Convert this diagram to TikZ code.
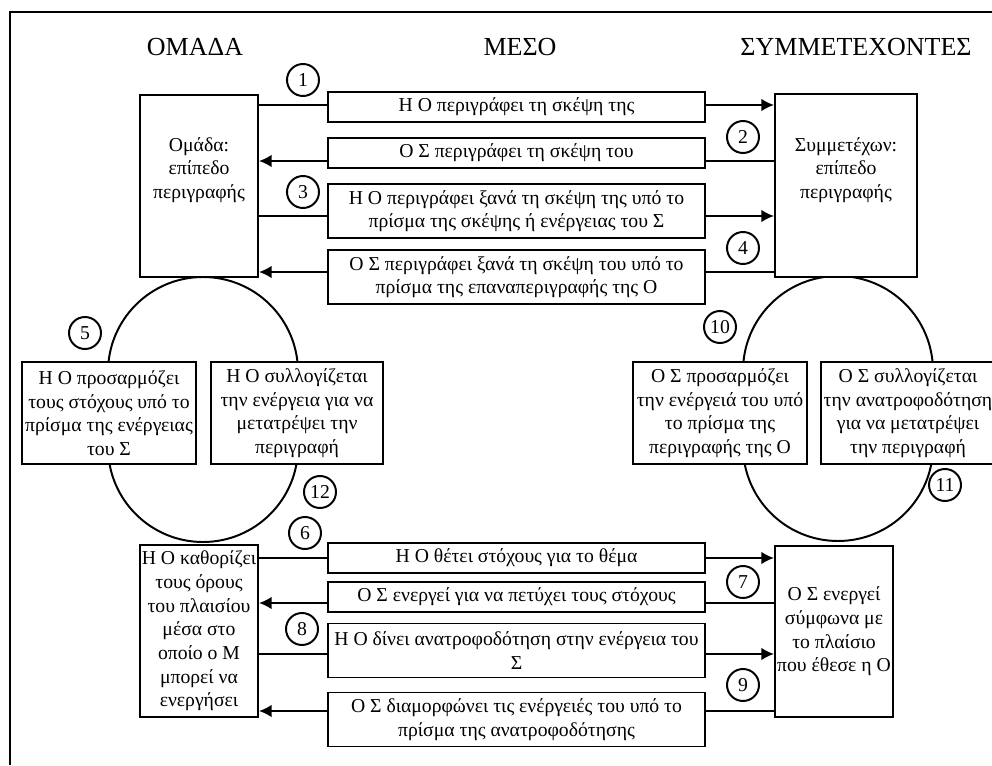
\documentclass[tikz,border=0pt]{standalone}
\usepackage{fontspec}
\setmainfont{Liberation Serif}
\usepackage{tikz}
\usetikzlibrary{arrows.meta, calc}
\newcommand{\txtsize}{\fontsize{14}{16.8}\selectfont}
\newcommand{\headsize}{\fontsize{18.5}{22}\selectfont}
\tikzset{outbox/.style={rectangle, draw, line width=1.4pt, fill=white,
align=center, inner sep=1pt}}
\tikzset{midbox/.style={rectangle, draw, line width=1.4pt, fill=white,
align=center, inner sep=1pt, minimum width=9.425cm}}
\tikzset{numcirc/.style={circle, draw, line width=1.4pt,
minimum size=0.8cm, inner sep=0pt}}
\tikzset{cycleshape/.style={rectangle, draw, line width=1.4pt,
minimum width=4.75cm, minimum height=6.625cm, rounded corners=2.375cm}}
\tikzset{arr/.style={line width=1.4pt, -{Latex[length=9pt, width=9pt]}}}

\begin{document}
\begin{tikzpicture}[font=\txtsize
]
\useasboundingbox (0,0) rectangle (24.8,19.125);
\draw [line width=1.4pt] (0.25,0) |- (24.8,18.825);

\node [font=\headsize] (hgrp) at (4.875,17.95) {ΟΜΑΔΑ};
\node [font=\headsize] (hmid) at (13.0,17.95) {ΜΕΣΟ};
\node [font=\headsize] (hpart) at (21.4,17.95) {ΣΥΜΜΕΤΕΧΟΝΤΕΣ};

% the two cycles, behind the boxes
\node [cycleshape] (cycL) at (5.075,8.8875) {};
\node [cycleshape] (cycR) at (20.95,8.9125) {};

\node[outbox,
minimum width = 2.95cm,
minimum height = 4.55cm] (grp) at (4.975,14.475) {};
\node [align=center] (grpt) at (4.975,14.875) {Ομάδα:\\επίπεδο\\περιγραφής};

\node[outbox,
minimum width = 3.55cm,
minimum height = 4.575cm] (part) at (21.15,14.4875) {};
\node [align=center] (partt) at (21.15,14.875) {Συμμετέχων:\\επίπεδο\\περιγραφής};

\node[outbox,
minimum width = 2.95cm,
minimum height = 4.3cm] (frame) at (4.975,3.35) {Η Ο καθορίζει\\τους όρους\\του πλαισίου\\μέσα στο\\οποίο ο Μ\\μπορεί να\\ενεργήσει};

\node[outbox,
minimum width = 2.95cm,
minimum height = 4.275cm] (act) at (20.85,3.3375) {Ο Σ ενεργεί\\σύμφωνα με\\το πλαίσιο\\που έθεσε η Ο};

\node[outbox,
minimum width = 4.35cm,
minimum height = 2.55cm] (adapt) at (2.725,8.8) {Η Ο προσαρμόζει\\τους στόχους υπό το\\πρίσμα της ενέργειας\\του Σ};
\node[outbox,
minimum width = 4.3cm,
minimum height = 2.55cm] (refl) at (7.425,8.8) {Η Ο συλλογίζεται\\την ενέργεια για να\\μετατρέψει την\\περιγραφή};
\node[outbox,
minimum width = 4.35cm,
minimum height = 2.55cm] (sadapt) at (18.0,8.8) {Ο Σ προσαρμόζει\\την ενέργειά του υπό\\το πρίσμα της\\περιγραφής της Ο};
\node[outbox,
minimum width = 4.35cm,
minimum height = 2.55cm] (srefl) at (22.7,8.8) {Ο Σ συλλογίζεται\\την ανατροφοδότηση\\για να μετατρέψει\\την περιγραφή};

% heights of the arrows
\coordinate (y1) at (0,16.5);
\coordinate (y2) at (0,15.1);
\coordinate (y3) at (0,13.725);
\coordinate (y4) at (0,12.325);
\coordinate (y6) at (0,5.175);
\coordinate (y7) at (0,4.05);
\coordinate (y8) at (0,2.775);
\coordinate (y9) at (0,1.35);

\draw [arr] (grp.east |- y1) -- (part.west |- y1);
\draw [arr] (part.west |- y2) -- (grp.east |- y2);
\draw [arr] (grp.east |- y3) -- (part.west |- y3);
\draw [arr] (part.west |- y4) -- (grp.east |- y4);
\draw [arr] (frame.east |- y6) -- (act.west |- y6);
\draw [arr] (act.west |- y7) -- (frame.east |- y7);
\draw [arr] (frame.east |- y8) -- (act.west |- y8);
\draw [arr] (act.west |- y9) -- (frame.east |- y9);

\node[midbox, minimum height = 0.75cm] (m1) at (12.9125,16.45) {Η Ο περιγράφει τη σκέψη της};
\node[midbox, minimum height = 0.75cm] (m2) at (12.9125,15.3) {Ο Σ περιγράφει τη σκέψη του};
\node[midbox, minimum height = 1.35cm] (m3) at (12.9125,13.85) {Η Ο περιγράφει ξανά τη σκέψη της υπό το\\πρίσμα της σκέψης ή ενέργειας του Σ};
\node[midbox, minimum height = 1.35cm] (m4) at (12.9125,12.2) {Ο Σ περιγράφει ξανά τη σκέψη του υπό το\\πρίσμα της επαναπεριγραφής της Ο};

\node[midbox, minimum height = 0.75cm] (m6) at (12.9125,5.175) {Η Ο θέτει στόχους για το θέμα};
\node[midbox, minimum height = 0.75cm] (m7) at (12.9125,4.2) {Ο Σ ενεργεί για να πετύχει τους στόχους};
\node[midbox, minimum height = 1.35cm] (m8) at (12.9125,2.8625) {Η Ο δίνει ανατροφοδότηση στην ενέργεια του\\Σ};
\node[midbox, minimum height = 1.35cm] (m9) at (12.9125,1.1375) {Ο Σ διαμορφώνει τις ενέργειές του υπό το\\πρίσμα της ανατροφοδότησης};

% step numbers
\node [numcirc] (n1) at (7.575,17.125) {1};
\node [numcirc] (n2) at (18.575,15.7) {2};
\node [numcirc] (n3) at (7.575,14.325) {3};
\node [numcirc] (n4) at (18.575,12.925) {4};
\node [numcirc] (n5) at (2.125,10.8) {5};
\node [numcirc] (n6) at (7.625,5.8) {6};
\node [numcirc] (n7) at (18.575,4.575) {7};
\node [numcirc] (n8) at (7.55,3.4) {8};
\node [numcirc] (n9) at (18.575,2.0) {9};
\node [numcirc] (n10) at (18.0,10.95) {10};
\node [numcirc] (n11) at (23.625,7.0) {11};
\node [numcirc] (n12) at (8.0,6.825) {12};

\end{tikzpicture}
\end{document}
